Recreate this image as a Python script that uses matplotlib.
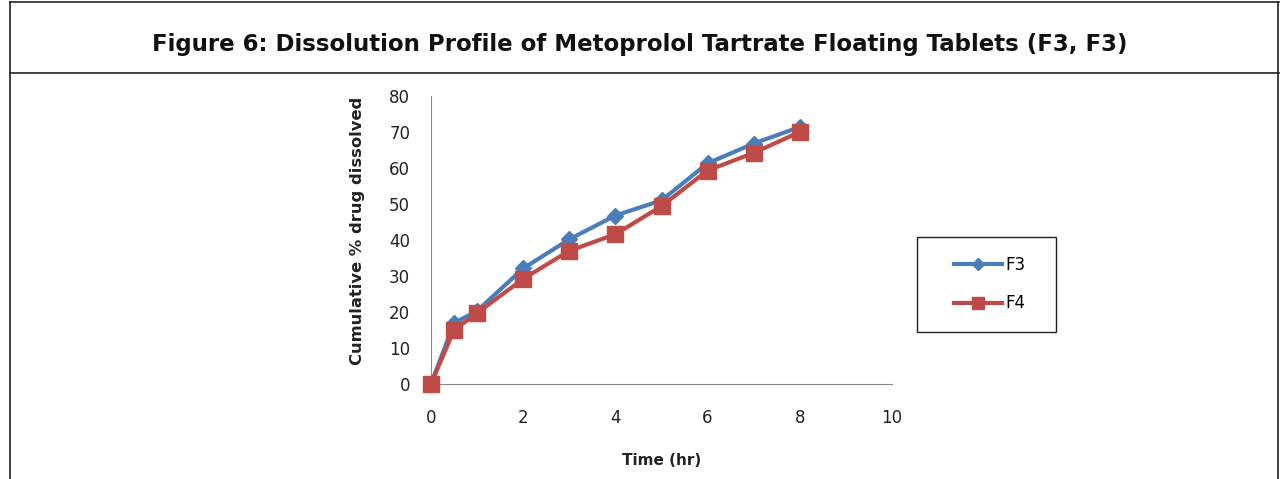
import matplotlib
matplotlib.use("Agg")
import matplotlib.pyplot as plt
from matplotlib.lines import Line2D
from matplotlib.patches import Rectangle

time_hr = [0, 0.5, 1, 2, 3, 4, 5, 6, 7, 8]
f3 = [0, 16.9, 20.3, 32.1, 40.2, 46.8, 51.0, 61.3, 66.8, 71.4]
f4 = [0, 15.0, 19.7, 29.2, 37.0, 41.6, 49.4, 59.3, 64.2, 70.0]
xticks = [0, 2, 4, 6, 8, 10]
yticks = [0, 10, 20, 30, 40, 50, 60, 70, 80]

W, H = 1281, 479
fig = plt.figure(figsize=(W / 100, H / 100), dpi=100)

# frame around the figure box
def fline(x0, y0, x1, y1, lw=1.2):
    fig.add_artist(Line2D([x0 / W, x1 / W], [1 - y0 / H, 1 - y1 / H],
                          color="#222222", lw=lw, transform=fig.transFigure))

fline(10, 2, 1279, 2)
fline(10, 73, 1279, 73)
fline(10, 2, 10, 479)
fline(1278, 2, 1278, 479)

fig.text(640 / W, 1 - 45 / H,
         "Figure 6: Dissolution Profile of Metoprolol Tartrate Floating Tablets (F3, F3)",
         ha="center", va="center", fontsize=16.5, fontweight="bold",
         family="DejaVu Sans", color="#111111")

ax = fig.add_axes([431 / W, 1 - 384 / H, (892 - 431) / W, (384 - 96) / H])
ax.plot(time_hr, f3, color="#4A7EBB", lw=3, marker="D", markersize=8,
        label="F3", clip_on=False, zorder=3)
ax.plot(time_hr, f4, color="#BE4B48", lw=3, marker="s", markersize=11,
        label="F4", clip_on=False, zorder=4)

ax.set_xlim(0, 10)
ax.set_ylim(0, 80)
ax.set_xticks(xticks)
ax.set_yticks(yticks)
for s in ["top", "right"]:
    ax.spines[s].set_visible(False)
for s in ["left", "bottom"]:
    ax.spines[s].set_color("#888888")
ax.tick_params(length=0, labelsize=12, labelcolor="#222222")
ax.tick_params(axis="x", pad=18)
ax.tick_params(axis="y", pad=15)
ax.set_xlabel("Time (hr)", fontsize=11, fontweight="bold", labelpad=19, color="#222222")
ax.set_ylabel("Cumulative % drug dissolved", fontsize=11.8, fontweight="bold",
              color="#222222")
ax.yaxis.set_label_coords(-0.143, 0.53)

# legend box
fig.add_artist(Rectangle((917 / W, 1 - 332 / H), (1056 - 917) / W, (332 - 237) / H,
                         transform=fig.transFigure, fill=False,
                         edgecolor="#222222", lw=1.0))
leg = ax.legend(loc="center", bbox_to_anchor=((990 - 431) / (892 - 431), (384 - 284) / (384 - 96)),
                frameon=False, fontsize=12, handlelength=2.9,
                labelspacing=1.25, borderpad=0, handletextpad=0.2, markerscale=0.8)

fig.savefig("out.png", dpi=100)
